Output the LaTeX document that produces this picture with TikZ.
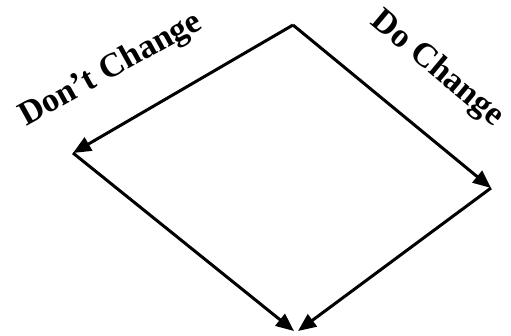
\documentclass[tikz,border=0pt]{standalone}
\usepackage{fontspec}
\setmainfont{Liberation Serif}
\usetikzlibrary{arrows.meta}
\begin{document}
\begin{tikzpicture}[x=1pt,y=-1pt,
  edge/.style={line width=3pt,-{Triangle[length=18pt,width=15pt]}},
  lbl/.style={font=\bfseries\fontsize{34}{34}\selectfont,inner sep=0pt}]
\useasboundingbox (0,0) rectangle (511,335);
\coordinate (top) at (293,25);
\coordinate (left) at (73,153);
\coordinate (right) at (491,188);
\coordinate (botl) at (294,331);
\coordinate (botr) at (298,331);
\draw[edge] (top) -- (left);
\draw[edge] (top) -- (right);
\draw[edge] (left) -- (botl);
\draw[edge] (right) -- (botr);
\node[lbl,rotate=29] (dont) at (111,70) {Don’t Change};
\node[lbl,rotate=-40] (do) at (437,69) {Do Change};
\end{tikzpicture}
\end{document}
